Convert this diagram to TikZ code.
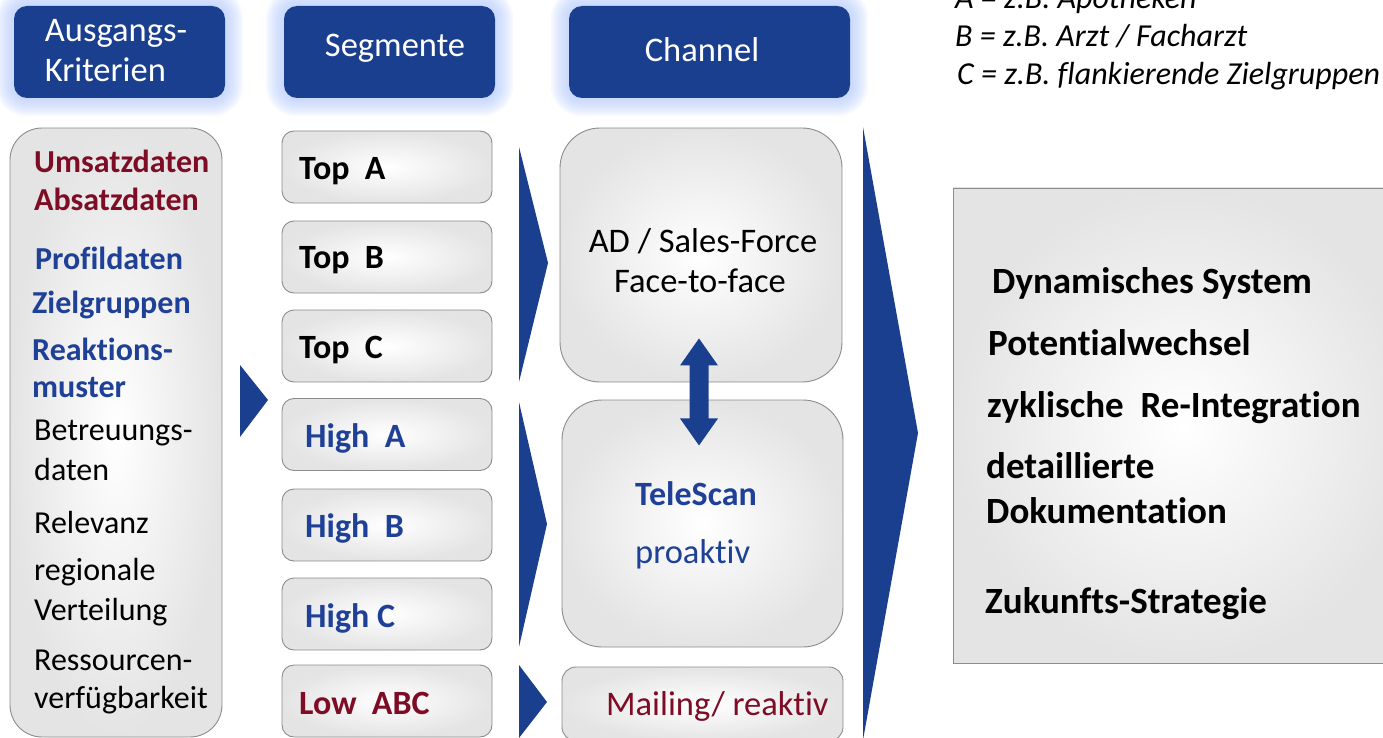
\documentclass[tikz,border=0pt]{standalone}
\usepackage{fontspec}
\setmainfont{Carlito}[RawFeature={-liga;-dlig}]
\usetikzlibrary{calc,backgrounds}
\definecolor{navy}{RGB}{27,63,143}
\definecolor{textblue}{RGB}{30,64,150}
\definecolor{wine}{RGB}{125,12,36}
\definecolor{glowc}{RGB}{175,198,252}
\definecolor{panelgray}{RGB}{228,228,228}
\definecolor{edgegray}{RGB}{140,140,140}
\begin{document}
\begin{tikzpicture}[x=1pt,y=-1pt,
  hdr/.style={fill=navy, rounded corners=13pt, inner sep=0pt, minimum height=92pt},
  hdrtxt/.style={inner sep=0pt, text=white, align=left, font=\fontsize{34.5}{40}\selectfont},
  panel/.style={draw=edgegray, line width=0.9pt, inner color=white, outer color=panelgray, inner sep=0pt},
  segbox/.style={panel, rounded corners=12pt, minimum width=210pt, minimum height=72pt},
  chanbox/.style={panel, rounded corners=40pt, minimum width=281pt},
  lbl/.style={anchor=base west, inner sep=0pt},
  crittxt/.style={lbl, font=\fontsize{32}{37}\selectfont},
  critbold/.style={lbl, font=\fontsize{32}{37}\selectfont\bfseries},
  segtxt/.style={lbl, font=\fontsize{34}{40}\selectfont\bfseries},
  chantxt/.style={inner sep=0pt, font=\fontsize{34.5}{40}\selectfont},
  restxt/.style={lbl, font=\fontsize{37}{43}\selectfont\bfseries},
  keytxt/.style={lbl, font=\fontsize{32}{38}\selectfont\itshape},
  chevron/.style={fill=navy}
]
\useasboundingbox (0,0) rectangle (1383,738);
\clip (0,0) rectangle (1383,738);

% column headers
\node[hdr, minimum width=211pt] (h1) at (119.5,52) {};
\node[hdr, minimum width=211pt] (h2) at (389.5,52) {};
\node[hdr, minimum width=281pt] (h3) at (709.5,52) {};
\node[hdrtxt] (h1t) at (116,51) {Ausgangs-\\Kriterien};
\node[hdrtxt] (h2t) at (395,48) {Segmente};
\node[hdrtxt] (h3t) at (702,50) {Channel};

% soft glow around the headers
\begin{scope}[on background layer]
  \foreach \n in {h1,h2,h3}{
    \foreach \k in {2,4,...,18}{
      \pgfmathsetmacro\rr{13+\k}
      \fill[glowc, opacity=0.11, rounded corners=\rr pt]
        ($(\n.north west)+(-\k,-\k)$) rectangle ($(\n.south east)+(\k,\k)$);
    }
  }
\end{scope}

% criteria panel
\node[panel, rounded corners=32pt, minimum width=212pt, minimum height=609pt] (crit) at (116,432.5) {};
\node[critbold, text=wine] (c1) at (34,173) {Umsatzdaten};
\node[critbold, text=wine] (c2) at (34,210) {Absatzdaten};
\node[critbold, text=textblue] (c3) at (35,269) {Profildaten};
\node[critbold, text=textblue] (c4) at (32,313) {Zielgruppen};
\node[critbold, text=textblue] (c5) at (32,360) {Reaktions-};
\node[critbold, text=textblue] (c6) at (32,397) {muster};
\node[crittxt] (c7) at (34,440) {Betreuungs-};
\node[crittxt] (c8) at (34,480) {daten};
\node[crittxt] (c9) at (34,533) {Relevanz};
\node[crittxt] (c10) at (34,580) {regionale};
\node[crittxt] (c11) at (34,620) {Verteilung};
\node[crittxt] (c12) at (34,670) {Ressourcen-};
\node[crittxt] (c13) at (34,708) {verfügbarkeit};

% segment boxes
\node[segbox] (sTA) at (387,167) {};
\node[segbox] (sTB) at (387,257) {};
\node[segbox] (sTC) at (387,346) {};
\node[segbox] (sHA) at (387,434.5) {};
\node[segbox] (sHB) at (387,525) {};
\node[segbox] (sHC) at (387,614) {};
\node[segbox] (sL) at (387,701) {};
\node[segtxt] (tTA) at (299,180) {Top~~A};
\node[segtxt] (tTB) at (299,268) {Top~~B};
\node[segtxt] (tTC) at (299,358) {Top~~C};
\node[segtxt, text=textblue] (tHA) at (305,447) {High~~A};
\node[segtxt, text=textblue] (tHB) at (305,537) {High~~B};
\node[segtxt, text=textblue] (tHC) at (305,627) {High C};
\node[segtxt, text=wine] (tL) at (299,714) {Low~~ABC};

% channel boxes
\node[chanbox, minimum width=282pt, minimum height=254pt] (ad) at (701,255) {};
\node[chanbox, minimum height=247pt] (tele) at (702.5,523.5) {};
\node[chanbox, rounded corners=14pt, minimum height=74pt] (mail) at (702.5,704) {};
\node[chantxt, anchor=base] (ad1) at (703,252) {AD / Sales-Force};
\node[chantxt, anchor=base] (ad2) at (700,292) {Face-to-face};
\node[chantxt, lbl, font=\fontsize{34}{40}\selectfont\bfseries, text=textblue] (te1) at (635,505) {TeleScan};
\node[chantxt, lbl, text=textblue] (te2) at (635,563) {proaktiv};
\node[chantxt, lbl, text=wine] (ma1) at (606,715) {Mailing/ reaktiv};

% two-way arrow between field force and phone channel
\fill[navy] ([xshift=-2pt,yshift=44pt]ad.south) -- ++(19,27) -- ++(-9.5,0) -- ++(0,53)
  -- ++(9.5,0) -- ++(-19,27) -- ++(-19,-27) -- ++(9.5,0) -- ++(0,-53) -- ++(-9.5,0) -- cycle;

% result panel
\node[panel, minimum width=460pt, minimum height=475pt] (res) at (1183,425.5) {};
\node[restxt] (r1) at (992,293) {Dynamisches System};
\node[restxt] (r2) at (988,355) {Potentialwechsel};
\node[restxt] (r3) at (987,417) {zyklische~~Re-Integration};
\node[restxt] (r4) at (986,478) {detaillierte};
\node[restxt] (r5) at (986,523) {Dokumentation};
\node[restxt] (r6) at (985,613) {Zukunfts-Strategie};

% key for A, B, C
\node[keytxt] (kA) at (955,9) {A = z.B. Apotheken};
\node[keytxt] (kB) at (955,47) {B = z.B. Arzt / Facharzt};
\node[keytxt] (kC) at (957,85) {C = z.B. flankierende Zielgruppen};

% flow chevrons
\fill[chevron] (240,365) -- (268,400) -- (240,437) -- cycle;
\fill[chevron] (519,147) -- (548,263) -- (519,382) -- cycle;
\fill[chevron] (519,402) -- (547,524) -- (519,647) -- cycle;
\fill[chevron] (519,665) -- (547,702) -- (519,738) -- cycle;
\fill[chevron] (863,127) -- (918,433) -- (863,740) -- cycle;
\end{tikzpicture}
\end{document}
